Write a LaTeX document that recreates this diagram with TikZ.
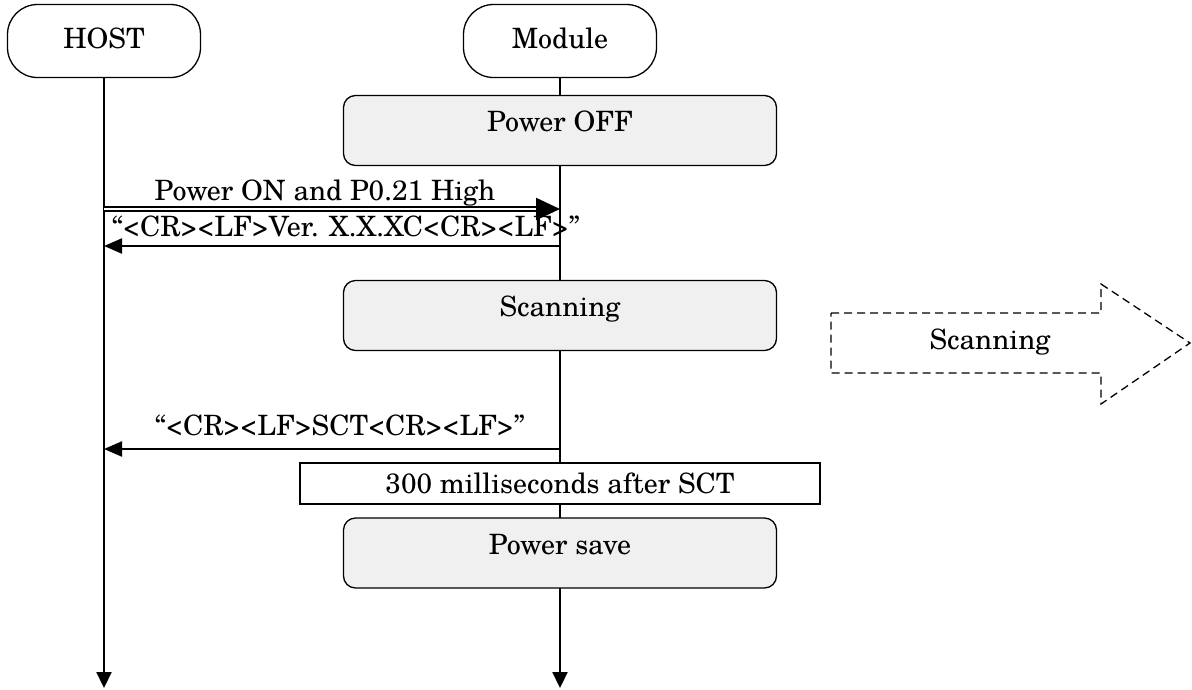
\documentclass[tikz,border=0pt]{standalone}
\usepackage{fontspec}
\setmainfont{TeX Gyre Schola}
\usetikzlibrary{arrows.meta}
\begin{document}
\begin{tikzpicture}[x=1pt,y=-1pt,
  font=\fontsize{28}{32}\selectfont,
  actor/.style={draw, line width=1.3pt, rounded corners=30pt, minimum width=193pt, minimum height=73pt, inner sep=0pt, text height=20pt, text depth=6pt},
  state/.style={draw, line width=1.3pt, rounded corners=12pt, fill=black!6, minimum width=433pt, minimum height=70pt, inner sep=0pt, text height=20pt, text depth=18pt},
  plain/.style={draw, line width=1.3pt, fill=white, minimum width=520pt, minimum height=41pt, inner sep=0pt, text height=20pt, text depth=0pt},
  life/.style={line width=2.2pt, -{Triangle[length=16pt,width=15pt]}},
  msg/.style={line width=2.2pt, -{Triangle[length=18pt,width=15pt]}},
  dmsg/.style={double, double distance=2.4pt, line width=2.2pt, -{Triangle[length=24pt,width=22pt]}},
  lbl/.style={inner sep=0pt, anchor=base}
]
\useasboundingbox (0,0) rectangle (1192,689);

\node[actor] (host) at (104,41) {HOST};
\node[actor] (module) at (560,41) {Module};

\coordinate (hostend) at (104,688);
\coordinate (modend) at (560,688);
\draw[life] (host.south) -- (hostend);
\draw[life] (module.south) -- (modend);

\node[state] (off) at (560,130.5) {Power OFF};

\coordinate (h1) at (104,209);
\coordinate (m1) at (560,209);
\draw[dmsg] (h1) -- (m1);
\node[lbl] (l1) at (325,200) {Power ON and P0.21 High};

\coordinate (h2) at (104,246);
\coordinate (m2) at (560,246);
\draw[msg] (m2) -- (h2);
\node[lbl] (l2) at (346,236) {``<CR><LF>Ver. X.X.XC<CR><LF>''};

\node[state] (scan) at (560,315.5) {Scanning};

\node (scan2) at (990,342) {Scanning};
\draw[dashed, line width=1.3pt, dash pattern=on 8pt off 5pt]
  (831,313) -- (1101,313) -- (1101,284) -- (1190,343) -- (1101,404) -- (1101,373) -- (831,373) -- cycle;

\coordinate (h3) at (104,449);
\coordinate (m3) at (560,449);
\draw[msg] (m3) -- (h3);
\node[lbl] (l3) at (340,435) {``<CR><LF>SCT<CR><LF>''};

\node[plain] (wait) at (560,483.5) {300 milliseconds after SCT};

\node[state] (save) at (560,553) {Power save};
\end{tikzpicture}
\end{document}
